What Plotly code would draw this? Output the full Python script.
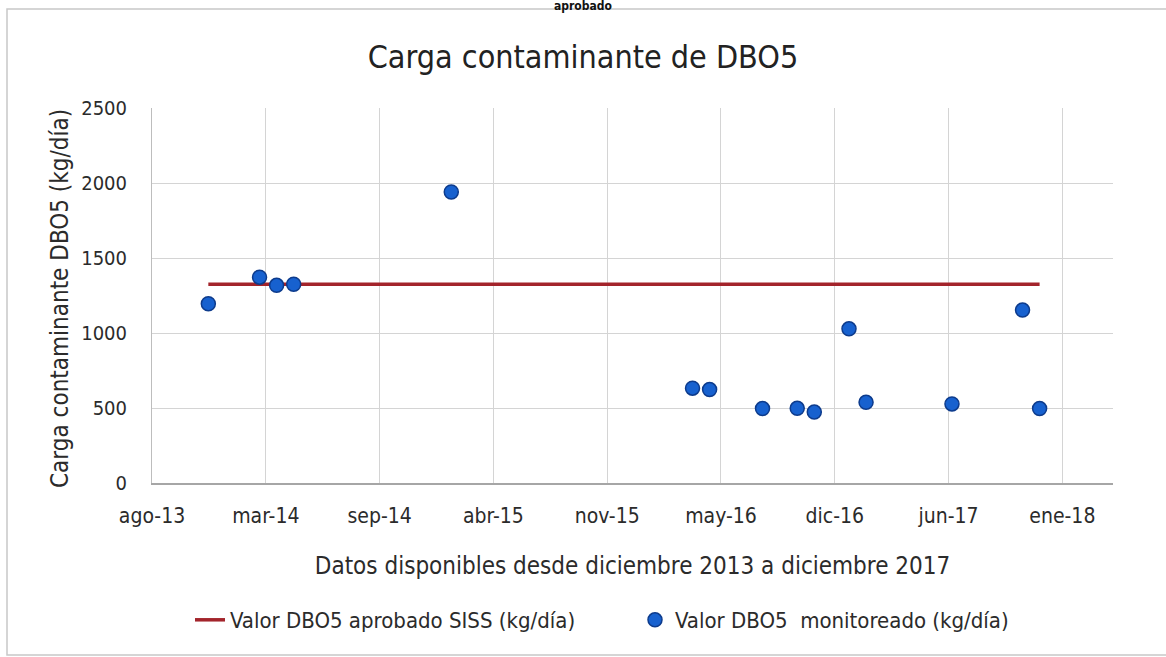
import plotly.graph_objects as go

# ---- data ----
monitor_dates = ["2013-12-01", "2014-03-01", "2014-03-31", "2014-04-30", "2015-02-01",
                 "2016-03-31", "2016-04-30", "2016-08-01", "2016-10-01", "2016-10-31",
                 "2016-12-31", "2017-01-30", "2017-06-30", "2017-11-01", "2017-12-01"]
monitor_values = [1195, 1372, 1318, 1325, 1940,
                  632, 623, 496, 498, 473,
                  1028, 538, 527, 1153, 496]
approved_dates = ["2013-12-01", "2017-12-01"]
approved_values = [1325, 1325]

tick_dates = ["2013-08-24", "2014-03-12", "2014-09-28", "2015-04-16", "2015-11-02",
              "2016-05-20", "2016-12-06", "2017-06-24", "2018-01-10"]
tick_labels = ["ago-13", "mar-14", "sep-14", "abr-15", "nov-15",
               "may-16", "dic-16", "jun-17", "ene-18"]
y_ticks = [0, 500, 1000, 1500, 2000, 2500]

FONT = "Liberation Sans Narrow, DejaVu Sans Condensed, Arial Narrow, sans-serif"
TXT = "#2b2b2b"

# plot-area geometry in pixels (used to place free text in paper units)
L, R, T, B = 152, 1113, 108, 483
PW, PH = R - L, B - T


def px(xp):
    return (xp - L) / PW


def py(yp):
    return (B - yp) / PH


fig = go.Figure()
fig.add_trace(go.Scatter(
    x=approved_dates, y=approved_values, mode="lines",
    name="Valor DBO5 aprobado SISS (kg/día)",
    line=dict(color="#a3242b", width=3.5),
))
fig.add_trace(go.Scatter(
    x=monitor_dates, y=monitor_values, mode="markers",
    name="Valor DBO5  monitoreado (kg/día)",
    marker=dict(color="#1761cf", size=14, line=dict(color="#0d3b8c", width=1.5)),
))

fig.update_layout(
    width=1166, height=657,
    margin=dict(l=L, r=1166 - R, t=T, b=657 - B),
    paper_bgcolor="#ffffff", plot_bgcolor="#ffffff",
    font=dict(family=FONT, color=TXT),
    title=dict(text="Carga contaminante de DBO5", x=0.5, xref="container",
               y=1 - 57 / 657, yref="container", xanchor="center", yanchor="middle",
               font=dict(size=32, color="#222222", family=FONT)),
    showlegend=True,
    legend=dict(orientation="h", xref="container", yref="container",
                x=190 / 1166, xanchor="left", y=1 - 620 / 657, yanchor="middle",
                font=dict(size=22, color=TXT), entrywidth=400, entrywidthmode="pixels",
                bgcolor="rgba(0,0,0,0)"),
    xaxis=dict(
        type="date", range=["2013-08-24", "2018-04-09"],
        tickmode="array", tickvals=tick_dates, ticktext=tick_labels,
        showgrid=True, gridcolor="#d4d4d4", gridwidth=1,
        showline=True, linecolor="#a6a6a6", linewidth=1.5,
        ticks="", tickfont=dict(size=21, color=TXT), ticklabelstandoff=13,
        zeroline=False,
        title=dict(text="Datos disponibles desde diciembre 2013 a diciembre 2017",
                   font=dict(size=24, color=TXT), standoff=30),
    ),
    yaxis=dict(
        range=[0, 2500], tickmode="array", tickvals=y_ticks,
        showgrid=True, gridcolor="#d4d4d4", gridwidth=1,
        showline=True, linecolor="#bdbdbd", linewidth=1,
        ticks="", tickfont=dict(size=20, color=TXT), ticklabelstandoff=20,
        zeroline=False,
    ),
)

# y-axis title
fig.add_annotation(text="Carga contaminante DBO5 (kg/día)", xref="paper", yref="paper",
                   x=px(60), y=py(299), xanchor="center", yanchor="middle", textangle=-90,
                   showarrow=False, font=dict(size=24, color=TXT, family=FONT))

# scanned page frame and heading fragment above the chart
fig.add_shape(type="rect", xref="paper", yref="paper",
              x0=px(7), x1=px(1200), y0=py(655), y1=py(9),
              line=dict(color="#c8c8c8", width=1.5), fillcolor="rgba(0,0,0,0)", layer="below")
fig.add_annotation(text="<b>aprobado</b>", xref="paper", yref="paper",
                   x=px(583), y=py(6), xanchor="center", yanchor="middle",
                   showarrow=False, font=dict(size=12, color="#111111", family=FONT))

fig.write_html("out.html", config={"displayModeBar": False},
               post_script="document.body.style.margin='0px';")
